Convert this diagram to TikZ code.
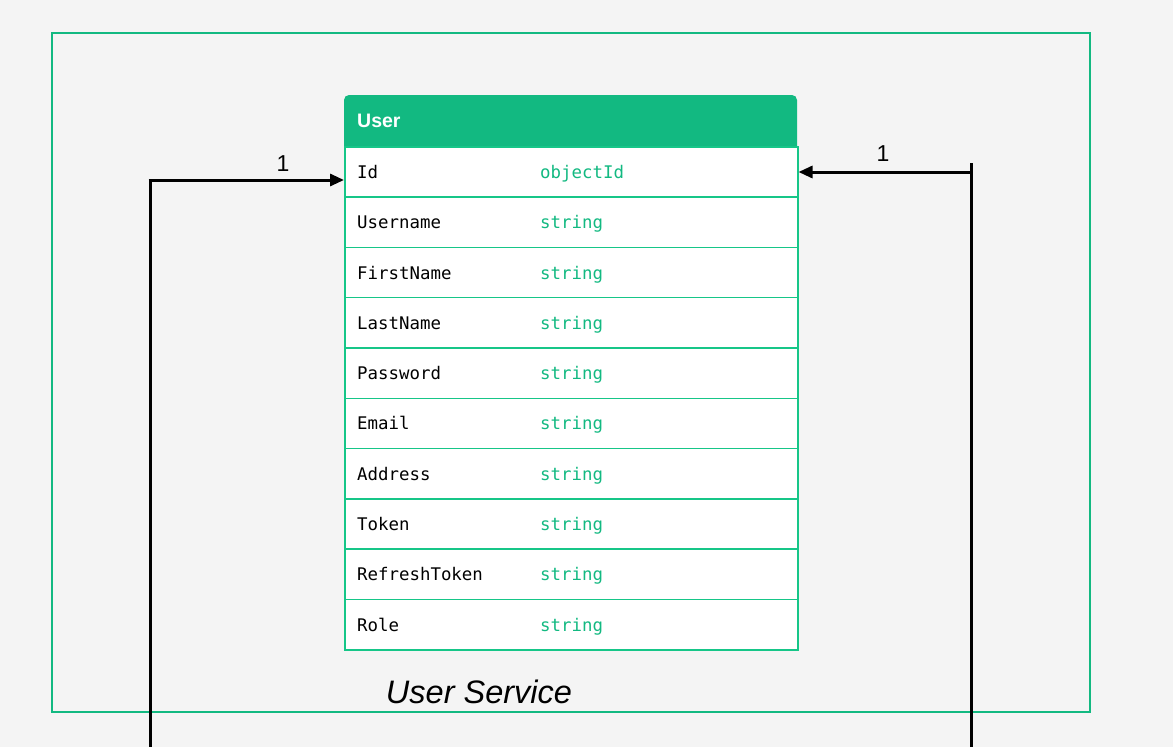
\documentclass[tikz,border=0pt]{standalone}
\usepackage{fontspec}
\setmainfont{Liberation Sans}
\newfontfamily\fieldfont{DejaVu Sans Mono}
\usetikzlibrary{arrows.meta}
\definecolor{svcgreen}{RGB}{18,185,129}
\definecolor{rowline}{RGB}{22,198,136}
\definecolor{canvas}{RGB}{244,244,244}
\tikzset{
  rowbox/.style={draw=rowline, line width=1.5pt, fill=white, minimum width=453pt,
    minimum height=50.3pt, inner sep=0pt, anchor=north west},
  fieldname/.style={anchor=base west, inner sep=0pt, font=\fieldfont\fontsize{17.4}{19}\selectfont},
  fieldtype/.style={fieldname, text=svcgreen},
  link/.style={draw=black, line width=3pt},
  tip/.style={-{Triangle[length=14pt,width=12pt]}},
  mult/.style={font=\fontsize{23}{25}\selectfont, inner sep=0pt}
}
\begin{document}
\begin{tikzpicture}[x=1pt,y=-1pt]
\fill[canvas] (0,0) rectangle (1173,747);
\useasboundingbox (0,0) rectangle (1173,747);
% service frame
\draw[svcgreen, line width=2.9pt] (52,33) rectangle (1090,712);
\node[font=\itshape\fontsize{32.5}{35}\selectfont, inner sep=0pt] (svc) at (479,692) {User Service};
% table header
\fill[svcgreen] (344,146) {[rounded corners=5pt] -- (344,95) -- (797,95)} -- (797,146) -- cycle;
\node[anchor=base west, inner sep=0pt, text=white, font=\bfseries\fontsize{19.5}{21}\selectfont] (hdr) at (357,127.5) {User};
% table rows
\foreach \name/\type [count=\i] in {Id/objectId, Username/string, FirstName/string,
  LastName/string, Password/string, Email/string, Address/string, Token/string,
  RefreshToken/string, Role/string}
{
  \node[rowbox] (row\i) at (344,{146+50.3*(\i-1)}) {};
  \node[fieldname] (name\i) at ([xshift=13pt,yshift=-6.5pt]row\i.west) {\name};
  \node[fieldtype] (type\i) at (540,0 |- name\i.base) {\type};
}
% links
\coordinate (lbot) at (150,747);
\coordinate (ltop) at (150,180);
\coordinate (rbot) at (971,747);
\coordinate (rtop) at (971,163);
\coordinate (rturn) at (971,172);
\draw[link] (lbot) -- (ltop);
\draw[link, tip] ([xshift=-1.5pt]ltop) -- (ltop -| row1.west);
\draw[link] (rtop) -- (rbot);
\draw[link, tip] (rturn) -- (rturn -| row1.east);
\node[mult] (lmult) at (283,164) {1};
\node[mult] (rmult) at (883,154) {1};
\end{tikzpicture}
\end{document}
